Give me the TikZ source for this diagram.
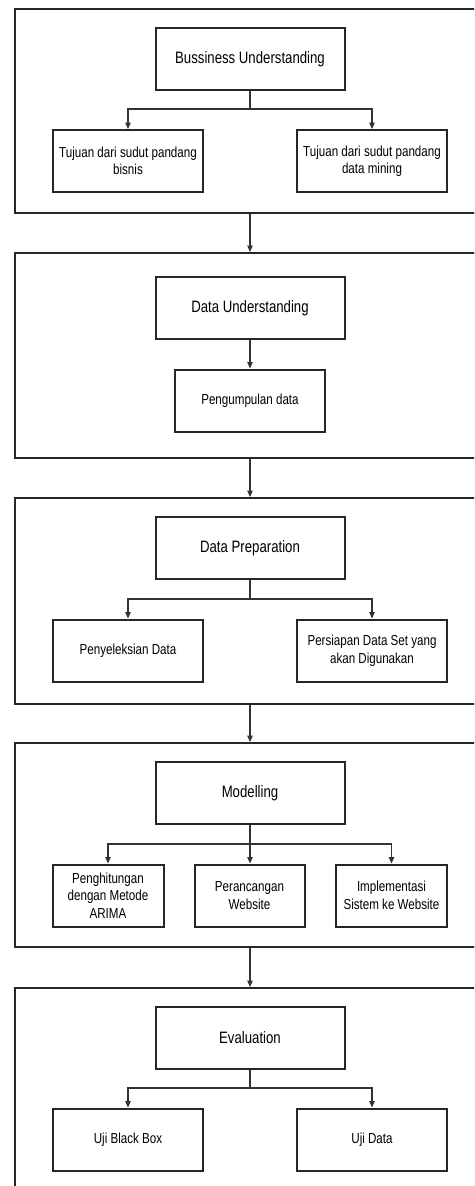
\documentclass[tikz,border=0pt]{standalone}
\usepackage{fontspec}
\setmainfont{Liberation Sans}[FakeStretch=0.8]
\usetikzlibrary{arrows.meta}
\begin{document}
\begin{tikzpicture}[x=1pt,y=-1pt,
  outerbox/.style={draw=black!85, line width=2pt, minimum width=490pt, inner sep=0pt, anchor=north west},
  titlebox/.style={draw=black!85, line width=2pt, minimum width=189pt, minimum height=62pt, inner sep=2pt, text=black, font=\fontsize{16.5}{19}\selectfont},
  subbox/.style={draw=black!85, line width=2pt, minimum width=150pt, minimum height=62pt, inner sep=2pt, align=center, text=black, font=\fontsize{14.5}{17.5}\selectfont},
  smallbox/.style={subbox, minimum width=111pt},
  conn/.style={draw=black!80, line width=1.1pt, -{Triangle[length=6.5pt,width=5.5pt]}},
  line/.style={draw=black!80, line width=1.1pt}
]
\useasboundingbox (0,0) rectangle (474,1186);
\clip (0,0) rectangle (474,1186);
\fill[white] (0,0) rectangle (474,1186);

% outer boxes
\node[outerbox, minimum height=204.5pt] (b1) at (14,7.5) {};
\node[outerbox, minimum height=205pt] (b2) at (14,252) {};
\node[outerbox, minimum height=206pt] (b3) at (14,497) {};
\node[outerbox, minimum height=204pt] (b4) at (14,742) {};
\node[outerbox, minimum height=215pt] (b5) at (14,987) {};

% Stage 1
\node[titlebox] (bu) at (250,59) {Bussiness Understanding};
\node[subbox] (bu1) at (128,161) {Tujuan dari sudut pandang\\bisnis};
\node[subbox] (bu2) at (372,161) {Tujuan dari sudut pandang\\data mining};
\coordinate (buj) at (250,109);
\draw[line] (bu.south) -- (buj);
\draw[conn] (buj) -| (bu1.north);
\draw[conn] (buj) -| (bu2.north);

% Stage 2
\node[titlebox] (du) at (250,308) {Data Understanding};
\node[subbox] (du1) at (250,400.5) {Pengumpulan data};
\draw[conn] (du.south) -- (du1.north);

% Stage 3
\node[titlebox] (dp) at (250,548) {Data Preparation};
\node[subbox] (dp1) at (128,650.5) {Penyeleksian Data};
\node[subbox] (dp2) at (372,650.5) {Persiapan Data Set yang\\akan Digunakan};
\coordinate (dpj) at (250,599);
\draw[line] (dp.south) -- (dpj);
\draw[conn] (dpj) -| (dp1.north);
\draw[conn] (dpj) -| (dp2.north);

% Stage 4
\node[titlebox] (mo) at (250,793) {Modelling};
\node[smallbox] (mo1) at (108,895.5) {Penghitungan\\dengan Metode\\ARIMA};
\node[smallbox, minimum width=110pt] (mo2) at (249.5,895.5) {Perancangan\\Website};
\node[smallbox] (mo3) at (391.5,895.5) {Implementasi\\Sistem ke Website};
\coordinate (moj) at (250,844);
\draw[line] (mo.south) -- (moj);
\draw[conn] (moj) -| (mo1.north);
\draw[conn] (moj) -- (moj |- mo2.north);
\draw[conn] (moj) -| (mo3.north);

% Stage 5
\node[titlebox] (ev) at (250,1038) {Evaluation};
\node[subbox] (ev1) at (128,1139.5) {Uji Black Box};
\node[subbox] (ev2) at (372,1139.5) {Uji Data};
\coordinate (evj) at (250,1088);
\draw[line] (ev.south) -- (evj);
\draw[conn] (evj) -| (ev1.north);
\draw[conn] (evj) -| (ev2.north);

% connectors between stages
\draw[conn] (bu.south |- b1.south) -- (bu.south |- b2.north);
\draw[conn] (du.south |- b2.south) -- (du.south |- b3.north);
\draw[conn] (dp.south |- b3.south) -- (dp.south |- b4.north);
\draw[conn] (mo.south |- b4.south) -- (mo.south |- b5.north);
\end{tikzpicture}
\end{document}
